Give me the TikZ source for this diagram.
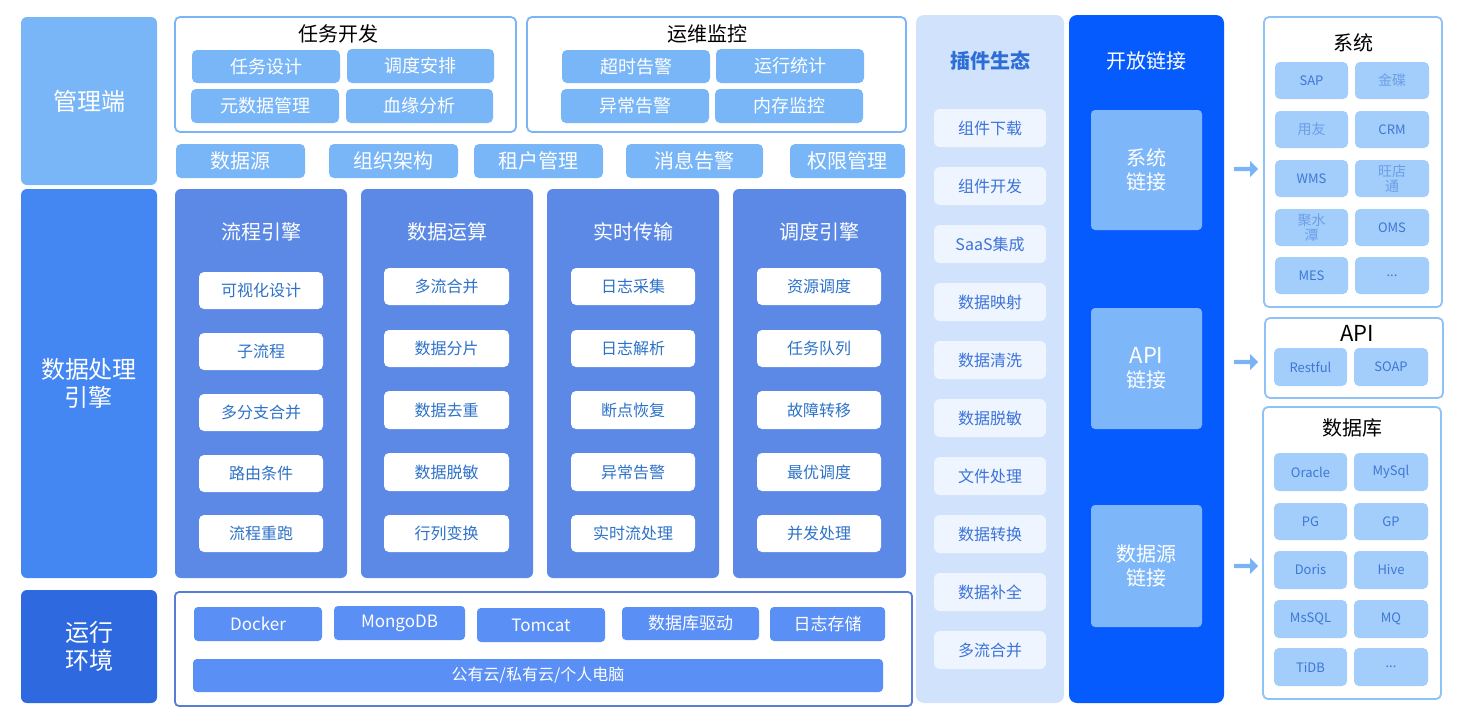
\documentclass[tikz,border=0pt]{standalone}
\usepackage{fontspec}
\setmainfont{Noto Sans CJK SC}
\usetikzlibrary{shapes.arrows}
\definecolor{mgmt}{HTML}{79B6F8}
\definecolor{proc}{HTML}{4487F2}
\definecolor{runc}{HTML}{2E69DF}
\definecolor{engc}{HTML}{5B89E5}
\definecolor{itemtxt}{HTML}{2D72C9}
\definecolor{frameb}{HTML}{7AB6F7}
\definecolor{plugbg}{HTML}{D0E2FC}
\definecolor{plugitem}{HTML}{EFF5FE}
\definecolor{plugtxt}{HTML}{3C73D9}
\definecolor{plugtitle}{HTML}{2C6ED6}
\definecolor{openc}{HTML}{065BFF}
\definecolor{openitem}{HTML}{7DB7F9}
\definecolor{rframe}{HTML}{8FC2F8}
\definecolor{ritem}{HTML}{A3CDFA}
\definecolor{rtxt}{HTML}{3E77D6}
\definecolor{rtxtl}{HTML}{6B9FE6}
\definecolor{arc}{HTML}{7AB4F6}
\definecolor{botb}{HTML}{5A7DD4}
\definecolor{botitem}{HTML}{5A8FF6}
\newcommand\fs[2]{\fontsize{#1}{#2}\selectfont}
% style, name, x1, y1, x2, y2, text
\newcommand\mybox[7]{%
  \pgfmathsetmacro\bxw{#5-#3}\pgfmathsetmacro\bxh{#6-#4}%
  \pgfmathsetmacro\bxcx{(#3+#5)/2}\pgfmathsetmacro\bxcy{(#4+#6)/2}%
  \node[#1, minimum width=\bxw pt, minimum height=\bxh pt, inner sep=0pt, outer sep=0pt] (#2) at (\bxcx,\bxcy) {#7};}
\tikzset{
  bigblk/.style={rounded corners=6pt, text=white, font=\fs{24}{28}, align=center},
  topframe/.style={draw=frameb, line width=1.8pt, fill=white, rounded corners=5pt},
  subb/.style={fill=mgmt, rounded corners=5pt, text=white, font=\fs{18}{22}},
  rowb/.style={fill=mgmt, rounded corners=5pt, text=white, font=\fs{20}{24}},
  ttl/.style={text=black, font=\fs{20}{24}, inner sep=0pt},
  engcol/.style={fill=engc, rounded corners=6pt},
  engttl/.style={text=white, font=\fs{20}{24}, inner sep=0pt},
  engitem/.style={fill=white, rounded corners=5pt, text=itemtxt, font=\fs{16}{19}},
  botframe/.style={draw=botb, line width=1.8pt, fill=white, rounded corners=4pt},
  botb/.style={fill=botitem, rounded corners=4pt, text=white, font=\fs{17}{20}},
  plugcol/.style={fill=plugbg, rounded corners=8pt},
  plugb/.style={fill=plugitem, rounded corners=6pt, text=plugtxt, font=\fs{16}{19}},
  opencol/.style={fill=openc, rounded corners=8pt},
  openb/.style={fill=openitem, rounded corners=4pt, text=white, font=\fs{20}{24}, align=center},
  rframe/.style={draw=rframe, line width=1.8pt, fill=white, rounded corners=5pt},
  rb/.style={fill=ritem, rounded corners=5pt, text=rtxt, font=\fs{13}{15}},
  rbc/.style={fill=ritem, rounded corners=5pt, text=rtxtl, font=\fs{14}{15}, align=center},
  rarrow/.style={single arrow, fill=arc, draw=none, minimum width=16pt, minimum height=24pt,
     single arrow head extend=4.5pt, single arrow head indent=0pt, inner sep=1.5pt}
}
\begin{document}
\begin{tikzpicture}[x=1pt,y=-1pt]
\useasboundingbox (0,0) rectangle (1462,726);
% left column
\mybox{bigblk,fill=mgmt}{mgm}{21}{17}{157}{185}{管理端}
\mybox{bigblk,fill=proc}{proc}{21}{189}{157}{578}{数据处理\\引擎}
\mybox{bigblk,fill=runc}{run}{21}{590}{157}{703}{运行\\环境}
% top frames
\mybox{topframe}{f1}{175}{17}{516}{132}{}
\node[ttl] (f1t) at (338,34) {任务开发};
\mybox{subb}{f1a}{192}{50}{340}{83}{任务设计}
\mybox{subb}{f1b}{347}{49}{494}{83}{调度安排}
\mybox{subb}{f1c}{191}{89}{339}{123}{元数据管理}
\mybox{subb}{f1d}{346}{89}{493}{123}{血缘分析}
\mybox{topframe}{f2}{527}{17}{906}{132}{}
\node[ttl] (f2t) at (707,34) {运维监控};
\mybox{subb}{f2a}{562}{50}{710}{83}{超时告警}
\mybox{subb}{f2b}{716}{49}{864}{83}{运行统计}
\mybox{subb}{f2c}{561}{89}{709}{123}{异常告警}
\mybox{subb}{f2d}{715}{89}{863}{123}{内存监控}
% row
\mybox{rowb}{r1}{176}{144}{305}{178}{数据源}
\mybox{rowb}{r2}{329}{144}{458}{178}{组织架构}
\mybox{rowb}{r3}{474}{144}{603}{178}{租户管理}
\mybox{rowb}{r4}{626}{144}{763}{178}{消息告警}
\mybox{rowb}{r5}{790}{144}{905}{178}{权限管理}
% engine columns
\mybox{engcol}{c1}{175}{189}{347}{578}{}
\node[engttl] (c1t) at (261,232) {流程引擎};
\mybox{engitem}{c1a}{199}{272}{323}{309}{可视化设计}
\mybox{engitem}{c1b}{199}{333}{323}{370}{子流程}
\mybox{engitem}{c1c}{199}{394}{323}{431}{多分支合并}
\mybox{engitem}{c1d}{199}{455}{323}{492}{路由条件}
\mybox{engitem}{c1e}{199}{515}{323}{552}{流程重跑}
\mybox{engcol}{c2}{361}{189}{533}{578}{}
\node[engttl] (c2t) at (447,232) {数据运算};
\mybox{engitem}{c2a}{384}{268}{509}{305}{多流合并}
\mybox{engitem}{c2b}{384}{330}{509}{367}{数据分片}
\mybox{engitem}{c2c}{384}{391}{509}{429}{数据去重}
\mybox{engitem}{c2d}{384}{453}{509}{491}{数据脱敏}
\mybox{engitem}{c2e}{384}{515}{509}{552}{行列变换}
\mybox{engcol}{c3}{547}{189}{719}{578}{}
\node[engttl] (c3t) at (633,232) {实时传输};
\mybox{engitem}{c3a}{571}{268}{695}{305}{日志采集}
\mybox{engitem}{c3b}{571}{330}{695}{367}{日志解析}
\mybox{engitem}{c3c}{571}{391}{695}{429}{断点恢复}
\mybox{engitem}{c3d}{571}{453}{695}{491}{异常告警}
\mybox{engitem}{c3e}{571}{515}{695}{552}{实时流处理}
\mybox{engcol}{c4}{733}{189}{906}{578}{}
\node[engttl] (c4t) at (819,232) {调度引擎};
\mybox{engitem}{c4a}{757}{268}{881}{305}{资源调度}
\mybox{engitem}{c4b}{757}{330}{881}{367}{任务队列}
\mybox{engitem}{c4c}{757}{391}{881}{429}{故障转移}
\mybox{engitem}{c4d}{757}{453}{881}{491}{最优调度}
\mybox{engitem}{c4e}{757}{515}{881}{552}{并发处理}
% bottom
\mybox{botframe}{bf}{175}{592}{912}{706}{}
\mybox{botb}{b1}{194}{607}{322}{641}{Docker}
\mybox{botb}{b2}{334}{606}{465}{640}{MongoDB}
\mybox{botb}{b3}{477}{608}{605}{642}{Tomcat}
\mybox{botb}{b4}{622}{607}{759}{640}{数据库驱动}
\mybox{botb}{b5}{770}{607}{885}{641}{日志存储}
\mybox{botb,font=\fs{16}{19}}{b6}{193}{659}{883}{692}{公有云/私有云/个人电脑}
% plugin column
\mybox{plugcol}{pc}{916}{15}{1064}{703}{}
\node[text=plugtitle, font=\fs{20}{24}\bfseries, inner sep=0pt] (pct) at (990,61) {插件生态};
\foreach \t [count=\i from 0] in {组件下载,组件开发,SaaS集成,数据映射,数据清洗,数据脱敏,文件处理,数据转换,数据补全,多流合并}{
  \pgfmathsetmacro\ya{109+58*\i}\pgfmathsetmacro\yb{147+58*\i}
  \mybox{plugb}{p\i}{934}{\ya}{1046}{\yb}{\t}
}
% open column
\mybox{opencol}{oc}{1069}{15}{1224}{703}{}
\node[text=white, font=\fs{20}{24}, inner sep=0pt] (oct) at (1146,61) {开放链接};
\mybox{openb}{o1}{1091}{110}{1202}{230}{系统\\链接}
\mybox{openb}{o2}{1091}{308}{1202}{429}{{\fs{22}{24}API}\\链接}
\mybox{openb}{o3}{1091}{505}{1202}{627}{数据源\\链接}
% arrows
\node[rarrow] (a1) at (1245,169) {};
\node[rarrow] (a2) at (1245,362) {};
\node[rarrow] (a3) at (1245,566) {};
% system frame
\mybox{rframe}{sf}{1264}{17}{1442}{307}{}
\node[ttl] (sft) at (1353,43) {系统};
\mybox{rb}{s1}{1275}{62}{1348}{99}{SAP}
\mybox{rbc}{s2}{1355}{62}{1429}{99}{金碟}
\mybox{rbc}{s3}{1275}{111}{1348}{148}{用友}
\mybox{rb}{s4}{1355}{111}{1429}{148}{CRM}
\mybox{rb}{s5}{1275}{160}{1348}{197}{WMS}
\mybox{rbc}{s6}{1355}{160}{1429}{197}{旺店\\通}
\mybox{rbc}{s7}{1275}{209}{1348}{246}{聚水\\潭}
\mybox{rb}{s8}{1355}{209}{1429}{246}{OMS}
\mybox{rb}{s9}{1275}{257}{1348}{294}{MES}
\mybox{rb}{s10}{1355}{257}{1429}{294}{...}
% API frame
\mybox{rframe}{af}{1265}{318}{1443}{398}{}
\node[ttl,font=\fs{22}{24}] (aft) at (1357,333) {API};
\mybox{rb}{ap1}{1274}{348}{1347}{386}{Restful}
\mybox{rb}{ap2}{1354}{348}{1428}{386}{SOAP}
% DB frame
\mybox{rframe}{df}{1263}{407}{1441}{699}{}
\node[ttl] (dft) at (1352,428) {数据库};
\mybox{rb}{d1}{1274}{453}{1347}{491}{Oracle}
\mybox{rb}{d2}{1354}{453}{1428}{491}{MySql}
\mybox{rb}{d3}{1274}{503}{1347}{540}{PG}
\mybox{rb}{d4}{1354}{503}{1428}{540}{GP}
\mybox{rb}{d5}{1274}{551}{1347}{589}{Doris}
\mybox{rb}{d6}{1354}{551}{1428}{589}{Hive}
\mybox{rb}{d7}{1274}{600}{1347}{638}{MsSQL}
\mybox{rb}{d8}{1354}{600}{1428}{638}{MQ}
\mybox{rb}{d9}{1274}{648}{1347}{686}{TiDB}
\mybox{rb}{d10}{1354}{648}{1428}{686}{...}
\end{tikzpicture}
\end{document}
